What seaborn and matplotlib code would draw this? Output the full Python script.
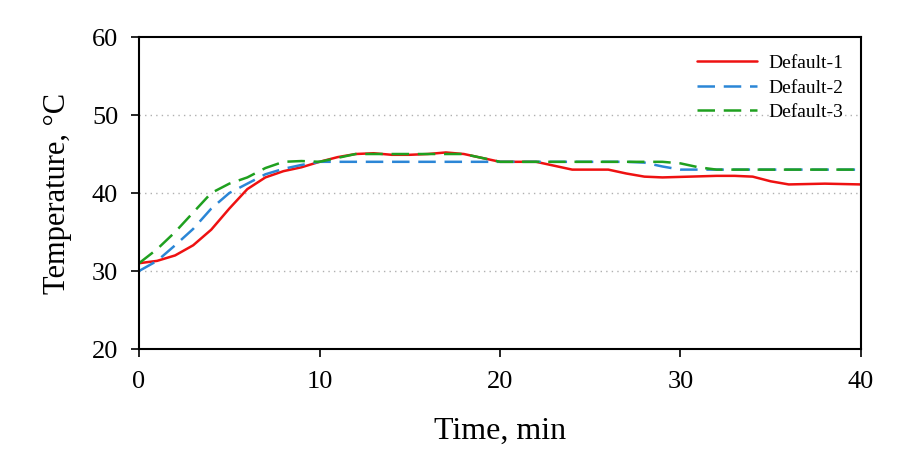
import pandas as pd
import matplotlib
matplotlib.use('Agg')
import matplotlib.pyplot as plt
import seaborn as sns

# Temperature traces
time_1 = [0, 1, 2, 3, 4, 5, 6, 7, 8, 9, 10, 11, 12, 13, 14, 15, 16, 17, 18, 19, 20,
          22, 23, 24, 26, 27, 28, 29, 32, 33, 34, 35, 36, 38, 40]
temp_1 = [31, 31.3, 32, 33.3, 35.3, 38, 40.5, 42, 42.8, 43.3, 44, 44.6, 45, 45.1, 44.9, 44.9, 45, 45.2, 45, 44.5, 44,
          44, 43.5, 43, 43, 42.5, 42.1, 42, 42.2, 42.2, 42.1, 41.5, 41.1, 41.2, 41.1]

time_2 = [0, 1, 2, 3, 4, 5, 6, 7, 8, 9, 10, 12, 20, 27, 28, 29, 30, 32, 40]
temp_2 = [30, 31.3, 33.3, 35.4, 38, 40, 41.2, 42.4, 43.1, 43.6, 44, 44, 44, 44, 43.9, 43.4, 43, 43, 43]

time_3 = [0, 1, 2, 3, 4, 5, 6, 7, 8, 9, 10, 11, 12, 15, 18, 19, 20, 29, 30, 31, 32, 40]
temp_3 = [31, 32.8, 35, 37.5, 40, 41.2, 42, 43.2, 44, 44.1, 44, 44.5, 45, 45, 45, 44.5, 44, 44, 43.8, 43.3, 43, 43]

series_names = ['Default-1', 'Default-2', 'Default-3']

df = pd.concat([
    pd.DataFrame({'time': time_1, 'temp': temp_1, 'run': series_names[0]}),
    pd.DataFrame({'time': time_2, 'temp': temp_2, 'run': series_names[1]}),
    pd.DataFrame({'time': time_3, 'temp': temp_3, 'run': series_names[2]}),
])

sns.set_style('white')
plt.rcParams['font.family'] = ['Liberation Serif', 'DejaVu Serif']
plt.rcParams['text.color'] = 'black'
plt.rcParams['axes.labelcolor'] = 'black'
plt.rcParams['xtick.color'] = 'black'
plt.rcParams['ytick.color'] = 'black'

fig = plt.figure(figsize=(9.22, 4.71), dpi=100)
ax = fig.add_axes([0.1508, 0.259, 0.7830, 0.6624])

palette = {'Default-1': '#ee1111', 'Default-2': '#2b86d6', 'Default-3': '#1fa01f'}
styles = {'Default-1': None, 'Default-2': (7, 3.5), 'Default-3': (7, 3.5)}
for name in series_names:
    sub = df[df['run'] == name]
    sns.lineplot(data=sub, x='time', y='temp', ax=ax, color=palette[name], label=name,
                 linewidth=1.8, estimator=None)
    if styles[name] is not None:
        ax.lines[-1].set_dashes(styles[name])

for y in [30, 40, 50]:
    ax.axhline(y, color='#b0b0b0', linestyle=(0, (1, 3)), linewidth=1, zorder=0)

ax.set_xlim(0, 40)
ax.set_ylim(20, 60)
ax.set_xticks([0, 10, 20, 30, 40])
ax.set_yticks([20, 30, 40, 50, 60])
ax.tick_params(axis='both', direction='out', length=6, width=1.2, labelsize=19,
               bottom=True, left=True, top=False, right=False)
ax.tick_params(axis='x', pad=10)
ax.tick_params(axis='y', pad=9)
for sp in ax.spines.values():
    sp.set_color('black')
    sp.set_linewidth(1.5)

ax.set_xlabel('Time, min', fontsize=23, labelpad=17)
ax.set_ylabel('Temperature, °C', fontsize=22, labelpad=14)

leg = ax.legend(loc='upper right', frameon=False, fontsize=14, handlelength=3.1,
                handletextpad=0.6, labelspacing=0.35, borderaxespad=0.5)

fig.savefig('out.png', dpi=100)
